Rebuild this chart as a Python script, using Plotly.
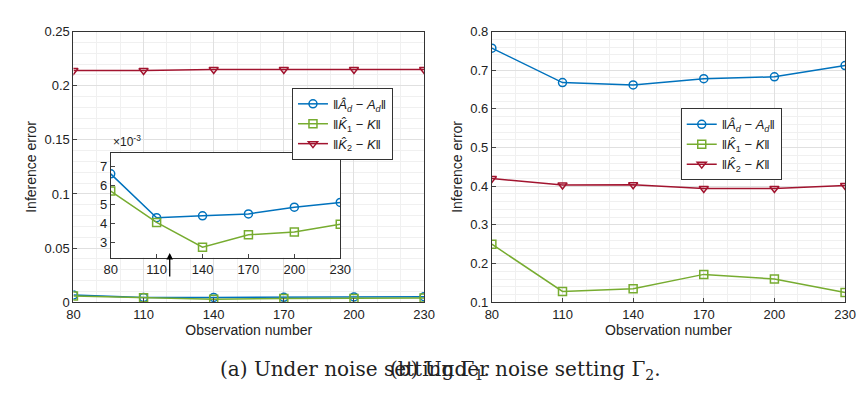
import plotly.graph_objects as go

x = [80, 110, 140, 170, 200, 230]
a_A = [0.0066, 0.0043, 0.0044, 0.0045, 0.00485, 0.0051]
a_K1 = [0.0057, 0.00405, 0.00275, 0.0034, 0.00355, 0.00395]
a_K2 = [0.214, 0.214, 0.215, 0.215, 0.215, 0.215]
b_A = [0.757, 0.668, 0.662, 0.678, 0.683, 0.712]
b_K1 = [0.25, 0.128, 0.135, 0.172, 0.160, 0.125]
b_K2 = [0.42, 0.403, 0.404, 0.394, 0.394, 0.402]
names = ["‖<i>Â<sub>d</sub></i> − <i>A<sub>d</sub></i>‖", "‖<i>K̂</i><sub>1</sub> − <i>K</i>‖", "‖<i>K̂</i><sub>2</sub> − <i>K</i>‖"]
cols = ["#0072BD", "#77AC30", "#A2142F"]
syms = ["circle-open", "square-open", "triangle-down-open"]

fig = go.Figure()
def add(y, i, xa, ya, leg, show=True):
    fig.add_trace(go.Scatter(x=x, y=y, mode="lines+markers", name=names[i], legend=leg,
        showlegend=show, xaxis=xa, yaxis=ya, line=dict(color=cols[i], width=1.5),
        marker=dict(symbol=syms[i], size=8, color=cols[i], line=dict(width=1.5, color=cols[i]))))
for i, y in enumerate([a_A, a_K1, a_K2]): add(y, i, "x", "y", "legend")
for i, y in enumerate([b_A, b_K1, b_K2]): add(y, i, "x2", "y2", "legend2")
for i, y in enumerate([a_A, a_K1]): add([v*1000 for v in y], i, "x3", "y3", "legend", False)

ax = dict(showline=True, mirror=True, linecolor="#333", ticks="inside", ticklen=4,
          showgrid=True, gridcolor="#e0e0e0", minor=dict(showgrid=True, gridcolor="#f0f0f0", dtick=10),
          tickfont=dict(size=13, color="#222"), zeroline=False)
fig.update_layout(
    width=865, height=409, margin=dict(l=0, r=0, t=0, b=0), plot_bgcolor="white", paper_bgcolor="white",
    font=dict(family="Liberation Sans", color="#222"),
    xaxis=dict(ax, domain=[0.069, 0.483], range=[80, 230], tickvals=x, title=dict(text="Observation number", font=dict(size=14), standoff=2), anchor="y"),
    yaxis=dict(ax, domain=[0.271, 0.958], range=[0, 0.25], dtick=0.05, minor=dict(showgrid=True, gridcolor="#f0f0f0", dtick=0.01), title=dict(text="Inference error", font=dict(size=14), standoff=4), anchor="x"),
    xaxis2=dict(ax, domain=[0.563, 0.980], range=[80, 230], tickvals=x, title=dict(text="Observation number", font=dict(size=14), standoff=2), anchor="y2"),
    yaxis2=dict(ax, domain=[0.271, 0.958], range=[0.1, 0.8], dtick=0.1, minor=dict(showgrid=True, gridcolor="#f0f0f0", dtick=0.02), title=dict(text="Inference error", font=dict(size=14), standoff=4), anchor="x2"),
    xaxis3=dict(ax, domain=[0.113, 0.384], range=[80, 230], tickvals=x, showgrid=False, minor=dict(showgrid=False), anchor="y3"),
    yaxis3=dict(ax, domain=[0.384, 0.650], range=[2.2, 7.7], dtick=1, showgrid=False, minor=dict(showgrid=False), anchor="x3"),
    legend=dict(x=0.327, y=0.815, xanchor="left", yanchor="top", bgcolor="white", bordercolor="#333", borderwidth=1, font=dict(size=13), tracegroupgap=0),
    legend2=dict(x=0.786, y=0.763, xanchor="left", yanchor="top", bgcolor="white", bordercolor="#333", borderwidth=1, font=dict(size=13)),
)
fig.add_shape(type="rect", xref="paper", yref="paper", x0=0.113, x1=0.384, y0=0.384, y1=0.650, fillcolor="white", line=dict(width=0), layer="below")
fig.add_annotation(text="×10<sup>-3</sup>", xref="paper", yref="paper", x=0.113, y=0.655, xanchor="left", yanchor="bottom", showarrow=False, font=dict(size=12))
fig.add_annotation(x=158/865, y=1-247/409, ax=0, ay=25, xref="paper", yref="paper", axref="pixel", ayref="pixel", text="", showarrow=True, arrowhead=2, arrowwidth=1.3, arrowcolor="black")
fig.add_annotation(text="(a) Under noise setting Γ<sub>1</sub>.", xref="paper", yref="paper", x=0.24, y=0.06, showarrow=False, font=dict(family="DejaVu Serif", size=20))
fig.add_annotation(text="(b) Under noise setting Γ<sub>2</sub>.", xref="paper", yref="paper", x=0.765, y=0.06, showarrow=False, font=dict(family="DejaVu Serif", size=20))
fig.write_html("out.html")
